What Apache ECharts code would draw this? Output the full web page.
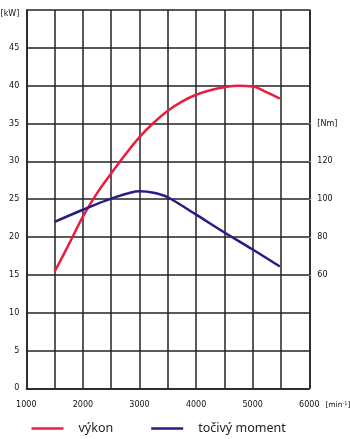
<!DOCTYPE html>
<html><head><meta charset="utf-8">
<script src="https://cdn.jsdelivr.net/npm/echarts@6/dist/echarts.min.js"></script>
<style>html,body{margin:0;padding:0;background:#fff}#c{width:350px;height:439px}</style>
</head><body><div id="c"></div>
<script>
// rpm values and series
const powerRpm = [1500,1750,2000,2250,2500,2750,3000,3250,3500,3750,4000,4250,4500,4750,5000,5250,5480];
const powerKw  = [15.4,19.0,22.7,25.8,28.4,30.9,33.2,35.1,36.7,37.9,38.8,39.4,39.8,40.0,39.9,39.1,38.3];
const torqueRpm = [1500,2000,2500,3000,3250,3500,4000,4500,5000,5480];
const torqueNm  = [88,94.4,100.3,104.2,103.4,101,91.8,82.4,73.4,64.4];
const xTickLabels = [1000,2000,3000,4000,5000,6000];
const kwTickLabels = [0,5,10,15,20,25,30,35,40,45];
const nmTickLabels = [60,80,100,120];
const seriesNames = ['výkon','točivý moment'];

const chart = echarts.init(document.getElementById('c'), null, {renderer:'canvas'});
const gridColor = '#222';
const lw = 1.5;
const tickFont = {fontFamily:'DejaVu Sans', fontSize:8, color:'#111'};
chart.setOption({
  animation:false,
  backgroundColor:'#fff',
  grid:{left:26.3, right:40.7, top:10, bottom:50.7, containLabel:false, outerBoundsMode:'none'},
  legend:{
    data:seriesNames, left:31.5, top:422, padding:0, icon:'rect', itemWidth:32, itemHeight:2.5, itemGap:38,
    textStyle:{fontFamily:'Noto Sans', fontSize:12.5, color:'#222', padding:[0,0,0,10]}
  },
  xAxis:{
    type:'value', min:1000, max:6000, interval:500,
    name:'{a|[min}{s|-1}{a|]}', nameLocation:'end', nameGap:11,
    nameTextStyle:{verticalAlign:'top', padding:[13,0,0,0],
      rich:{a:{fontFamily:'DejaVu Sans', fontSize:7.5, color:'#111'},
            s:{fontFamily:'DejaVu Sans', fontSize:5, color:'#111', verticalAlign:'top', padding:[0,0,3,0]}}},
    axisLine:{show:true, lineStyle:{color:gridColor, width:lw}},
    axisTick:{show:false},
    splitLine:{show:true, lineStyle:{color:gridColor, width:lw}},
    axisLabel:Object.assign({}, tickFont, {margin:13,
      formatter:v=>xTickLabels.includes(v)?String(v):''})
  },
  yAxis:[{
    type:'value', min:0, max:50, interval:5,
    axisLine:{show:true, lineStyle:{color:gridColor, width:lw}},
    axisTick:{show:false},
    splitLine:{show:true, lineStyle:{color:gridColor, width:lw}},
    axisLabel:Object.assign({}, tickFont, {margin:7,
      formatter:v=>v===50?'{u|[kW]}':(kwTickLabels.includes(v)?String(v):''),
      rich:{u:{fontFamily:'DejaVu Sans', fontSize:8, color:'#111', padding:[7,0,0,0]}}})
  },{
    type:'value', min:0, max:200, interval:20, position:'right',
    axisLine:{show:true, lineStyle:{color:gridColor, width:lw}},
    axisTick:{show:true, length:2, customValues:[60,80,100,120,140], lineStyle:{color:'#aaa'}},
    splitLine:{show:false},
    axisLabel:Object.assign({}, tickFont, {margin:8,
      customValues:[60,80,100,120,140],
      formatter:v=>v===140?'[Nm]':(nmTickLabels.includes(v)?String(v):'')})
  }],
  series:[{
    name:seriesNames[0], type:'line', yAxisIndex:0, smooth:0.4, showSymbol:false,
    lineStyle:{color:'#ec1c3e', width:2.5}, itemStyle:{color:'#ec1c3e'},
    data:powerRpm.map((r,i)=>[r,powerKw[i]])
  },{
    name:seriesNames[1], type:'line', yAxisIndex:1, smooth:0.3, showSymbol:false,
    lineStyle:{color:'#2a1a88', width:2.5}, itemStyle:{color:'#2a1a88'},
    data:torqueRpm.map((r,i)=>[r,torqueNm[i]])
  }]
});
</script></body></html>
